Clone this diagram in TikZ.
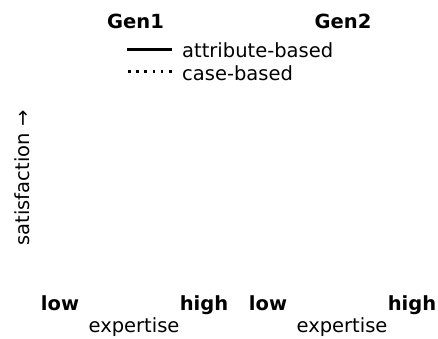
\documentclass[tikz,border=0pt]{standalone}
\usepackage{fontspec}
\setmainfont{DejaVu Sans}
\begin{document}
\begin{tikzpicture}[x=1pt,y=1pt,
  lbl/.style={inner sep=0pt,anchor=base,font=\fontsize{19.5}{23}\selectfont},
  blbl/.style={lbl,font=\fontsize{19.5}{23}\selectfont\bfseries},
  legsolid/.style={line width=3pt},
  legdot/.style={line width=3pt,dash pattern=on 2.6pt off 5.6pt}]
\useasboundingbox (0,0) rectangle (438,-339);
\node[blbl] (gen1) at (135.5,-29) {Gen1};
\node[blbl] (gen2) at (343,-29) {Gen2};
\coordinate (s1) at (127,-50);
\coordinate (s2) at (172,-50);
\coordinate (d1) at (128,-72);
\coordinate (d2) at (172,-72);
\draw[legsolid] (s1) -- (s2);
\draw[legdot] (d1) -- (d2);
\node[lbl,anchor=base west] (attr) at (182,-58) {attribute-based};
\node[lbl,anchor=base west] (case) at (182,-81) {case-based};
\node[lbl,rotate=90,anchor=base] (sat) at (29,-178) {satisfaction →};
\node[blbl] (low1) at (60,-310) {low};
\node[blbl] (high1) at (204,-310) {high};
\node[blbl] (low2) at (268,-310) {low};
\node[blbl] (high2) at (412,-310) {high};
\node[lbl] (exp1) at (134,-332) {expertise};
\node[lbl] (exp2) at (342,-332) {expertise};
\end{tikzpicture}
\end{document}
